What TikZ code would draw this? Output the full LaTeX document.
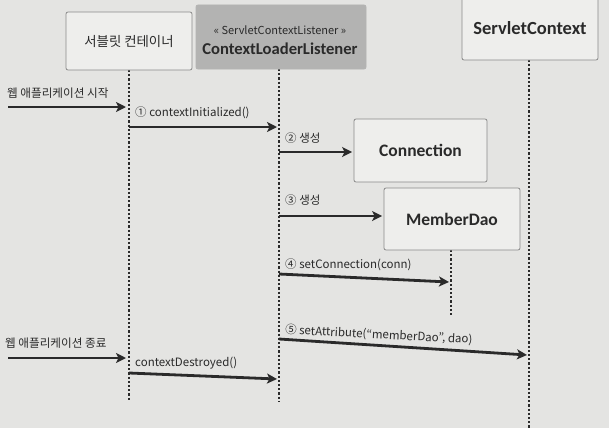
\documentclass[tikz,border=0pt]{standalone}
\usepackage{fontspec}
\setmainfont{Noto Sans CJK KR}
\newfontfamily\titlefam{Carlito}
\usetikzlibrary{arrows.meta}
\definecolor{bgc}{HTML}{E4E4E2}
\definecolor{boxc}{HTML}{EEEEEC}
\definecolor{grayc}{HTML}{B3B3B2}
\definecolor{edgec}{HTML}{8A8A8A}
\definecolor{inkc}{HTML}{2A2A2A}
\tikzset{
  objbox/.style={draw=edgec, fill=boxc, line width=0.8pt, rounded corners=2pt, inner sep=0pt, text=inkc},
  lifeline/.style={draw=inkc, line width=1.6pt, dash pattern=on 2.2pt off 2pt},
  msg/.style={draw=inkc, line width=2.8pt, -{Stealth[length=10pt,width=10pt,inset=2.5pt]}},
  msglabel/.style={anchor=west, inner sep=0pt, text=inkc, font=\fontsize{11.5}{13}\selectfont},
  korlabel/.style={anchor=west, inner sep=0pt, text=inkc, font=\fontsize{11.6}{14}\selectfont},
  titlefont/.style={font=\titlefam\bfseries\fontsize{17.5}{19}\selectfont}
}
\begin{document}
\begin{tikzpicture}[x=1pt,y=-1pt]
\fill[bgc] (0,0) rectangle (609,428);
\useasboundingbox (0,0) rectangle (609,428);

% lifeline ends
\coordinate (l1end) at (129,400);
\coordinate (l2end) at (279,402);
\coordinate (l3end) at (529,428);
\coordinate (l4end) at (451,317);

% lifelines
\draw[lifeline] (129,70) -- (l1end);
\draw[lifeline] (279,69) -- (l2end);
\draw[lifeline] (529,60) -- (l3end);
\draw[lifeline] (451,250) -- (l4end);

% object boxes
\node[objbox, minimum width=126pt, minimum height=58pt, font=\fontsize{13.4}{15}\selectfont] (cont) at (129,41) {서블릿 컨테이너};
\node[objbox, draw=grayc, fill=grayc, minimum width=170pt, minimum height=64pt] (cll) at (281,37) {};
\node[inner sep=0pt, text=inkc, font=\fontsize{11}{12}\selectfont] (stereo) at (280,30) {« ServletContextListener »};
\node[inner sep=0pt, text=inkc, titlefont, font=\titlefam\bfseries\fontsize{16.6}{18}\selectfont] (cllname) at (280,49) {ContextLoaderListener};
\node[objbox, minimum width=136pt, minimum height=68pt] (sctx) at (530,26) {};
\node[inner sep=0pt, text=inkc, titlefont, font=\titlefam\bfseries\fontsize{18.5}{20}\selectfont] (sctxname) at (530,28) {ServletContext};
\node[objbox, minimum width=133pt, minimum height=63pt, titlefont] (conn) at (420.5,150.5) {Connection};
\node[objbox, minimum width=136pt, minimum height=62pt, titlefont] (mdao) at (452,219) {MemberDao};

% message endpoints
\coordinate (s0) at (8,107);   \coordinate (s1) at (126,107);
\coordinate (a1s) at (129,127); \coordinate (a1e) at (277,127);
\coordinate (a2s) at (279,152); \coordinate (a3s) at (279,216);
\coordinate (a4s) at (279,274); \coordinate (a4e) at (449,282);
\coordinate (a5s) at (279,339); \coordinate (a5e) at (527,355);
\coordinate (e0) at (8,358);   \coordinate (e1) at (126,358);
\coordinate (a6s) at (129,373); \coordinate (a6e) at (277,379);

% messages
\draw[msg] (s0) -- (s1);
\draw[msg] (a1s) -- (a1e);
\draw[msg, shorten >=1.5pt] (a2s) -- (a2s -| conn.west);
\draw[msg, shorten >=1.5pt] (a3s) -- (a3s -| mdao.west);
\draw[msg] (a4s) -- (a4e);
\draw[msg] (a5s) -- (a5e);
\draw[msg] (e0) -- (e1);
\draw[msg] (a6s) -- (a6e);

% labels
\node[korlabel] (tstart) at (7,93) {웹 애플리케이션 시작};
\node[msglabel] (t1) at (135,113) {① contextInitialized()};
\node[msglabel] (t2) at (285,138) {② 생성};
\node[msglabel] (t3) at (285,200) {③ 생성};
\node[msglabel] (t4) at (285,265) {④ setConnection(conn)};
\node[msglabel, rotate=-3] (t5) at (285,330) {⑤ setAttribute(“memberDao”, dao)};
\node[korlabel] (tend) at (5,343) {웹 애플리케이션 종료};
\node[msglabel] (t6) at (135,363) {contextDestroyed()};
\end{tikzpicture}
\end{document}
